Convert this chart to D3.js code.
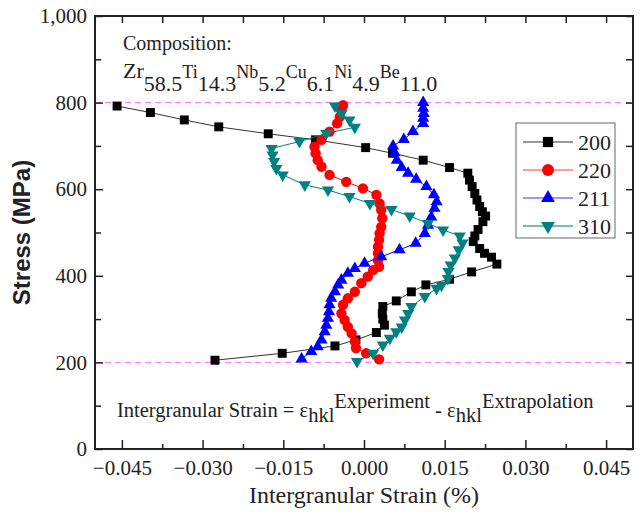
<!DOCTYPE html>
<html>
<head>
<meta charset="utf-8">
<script src="https://cdn.jsdelivr.net/npm/d3@7"></script>
<style>
  body { margin: 0; background: #fff; }
  text { font-family: "Liberation Serif"; }
  text.sans { font-family: "Liberation Sans"; }
</style>
</head>
<body>
<div id="chart"></div>
<script>
// strain (%) / stress (MPa)
const strain200 = [-0.0277, -0.0152, -0.0054, -0.0015, 0.0023, 0.0038, 0.0035, 0.0034, 0.0035, 0.0060, 0.0088, 0.0115, 0.0159, 0.0200, 0.0247,
    0.0237, 0.0224, 0.0215, 0.0203, 0.0206, 0.0212, 0.0221, 0.0226, 0.0220, 0.0215, 0.0210, 0.0206, 0.0201, 0.0196, 0.0193,
    0.0159, 0.0110, 0.0053, 0.0003, -0.0090, -0.0178, -0.0270, -0.0334, -0.0397, -0.0459]
const stress200 = [205, 221, 238, 252, 269, 286, 300, 313, 329, 342, 363, 379, 392, 409, 427,
    443, 452, 463, 479, 492, 507, 525, 538, 548, 560, 575, 590, 606, 621, 637,
    650, 667, 683, 696, 714, 728, 744, 760, 777, 792]

const strain220 = [0.0028, 0.0004, -0.0015, -0.0017, -0.0023, -0.0030, -0.0036, -0.0042, -0.0039, -0.0030, -0.0017, -0.0005, 0.0007, 0.0017,
    0.0028, 0.0026, 0.0026, 0.0026, 0.0028, 0.0029, 0.0032, 0.0034, 0.0032, 0.0029, 0.0023, -0.0002, -0.0033, -0.0064,
    -0.0079, -0.0086, -0.0090, -0.0092, -0.0079, -0.0064, -0.0050, -0.0045, -0.0042, -0.0039]
const stress220 = [207, 221, 233, 248, 267, 282, 298, 313, 333, 348, 363, 383, 398, 413,
    421, 436, 452, 467, 483, 498, 513, 533, 552, 567, 587, 602, 617, 633,
    652, 667, 683, 698, 714, 733, 752, 767, 783, 794]

const strain211 = [-0.0116, -0.0098, -0.0086, -0.0079, -0.0073, -0.0070, -0.0067, -0.0065, -0.0064, -0.0061, -0.0054, -0.0048, -0.0042,
    -0.0030, -0.0017, 0.0001, 0.0032, 0.0066, 0.0096, 0.0113, 0.0119, 0.0125, 0.0131, 0.0135, 0.0130, 0.0116, 0.0097,
    0.0082, 0.0070, 0.0061, 0.0057, 0.0054, 0.0074, 0.0091, 0.0110, 0.0110, 0.0111, 0.0110, 0.0110]
const stress211 = [208, 225, 236, 252, 271, 286, 302, 317, 333, 348, 363, 379, 390,
    406, 417, 429, 444, 460, 475, 498, 517, 536, 556, 571, 587, 606, 623,
    637, 650, 667, 684, 700, 715, 733, 752, 764, 775, 787, 800]

const strain310 = [-0.0013, 0.0017, 0.0035, 0.0048, 0.0060, 0.0070, 0.0076, 0.0082, 0.0088, 0.0113, 0.0135, 0.0144, 0.0156, 0.0157,
    0.0161, 0.0169, 0.0176, 0.0183, 0.0178, 0.0147, 0.0119, 0.0085, 0.0051, 0.0011, -0.0027, -0.0067, -0.0110,
    -0.0151, -0.0163, -0.0167, -0.0170, -0.0172, -0.0120, -0.0070, -0.0017, -0.0027, -0.0042, -0.0054]
const stress310 = [202, 221, 240, 256, 271, 282, 298, 313, 329, 352, 371, 378, 394, 410,
    425, 441, 460, 476, 492, 506, 521, 538, 553, 567, 583, 598, 610,
    633, 648, 664, 679, 694, 710, 729, 743, 760, 775, 792]

const seriesNames = ["200", "220", "211", "310"]
const xTicks = [-0.045, -0.030, -0.015, 0.000, 0.015, 0.030, 0.045]
const yTicks = [0, 200, 400, 600, 800, 1000]
const refStress = [200, 800]

const series = [
    { name: seriesNames[0], xs: strain200, ys: stress200, color: "#000000", line: "#333333", legendLine: "#777777", symbol: d3.symbolSquare, size: 80, rot: 0 },
    { name: seriesNames[1], xs: strain220, ys: stress220, color: "#ff0000", line: "#ff0000", legendLine: "#ff7a7a", symbol: d3.symbolCircle, size: 85, rot: 0 },
    { name: seriesNames[2], xs: strain211, ys: stress211, color: "#0000ff", line: "#0000ff", legendLine: "#7a7aff", symbol: d3.symbolTriangle, size: 64, rot: 0 },
    { name: seriesNames[3], xs: strain310, ys: stress310, color: "#008080", line: "#008080", legendLine: "#4aa5a5", symbol: d3.symbolTriangle, size: 64, rot: 180 }
]

const width = 642, height = 518
const plot = { left: 95, right: 633, top: 16, bottom: 449 }

const svg = d3.select("#chart").append("svg")
    .attr("width", width)
    .attr("height", height)
    .attr("font-family", "Liberation Serif")

const x = d3.scaleLinear().domain([-0.05, 0.05]).range([plot.left, plot.right])
const y = d3.scaleLinear().domain([0, 1000]).range([plot.bottom, plot.top])

const minorX = d3.range(-0.0375, 0.05, 0.015)
const minorY = d3.range(100, 1000, 200)

// reference lines at 200 and 800 MPa
svg.selectAll(".ref")
    .data(refStress)
    .join("line")
    .attr("x1", plot.left).attr("x2", plot.right)
    .attr("y1", d => y(d)).attr("y2", d => y(d))
    .attr("stroke", "#ff70ff")
    .attr("stroke-width", 1)
    .attr("stroke-dasharray", "6,4")

// axes: ticks point inward on all four sides
function styleAxis(g) {
    g.attr("font-family", "Liberation Serif")
    g.select(".domain").remove()
    g.selectAll(".tick line").attr("stroke", "#222").attr("stroke-width", 1.5)
    g.selectAll(".tick text")
        .attr("font-size", 21)
        .attr("fill", "#222")
}

svg.append("g")
    .attr("transform", `translate(0,${plot.bottom})`)
    .call(d3.axisBottom(x).tickValues(xTicks).tickSize(-9).tickPadding(11).tickFormat(d3.format(".3f")))
    .call(styleAxis)
svg.append("g")
    .attr("transform", `translate(0,${plot.bottom})`)
    .call(d3.axisBottom(x).tickValues(minorX).tickSize(-5).tickFormat(""))
    .call(styleAxis)
svg.append("g")
    .attr("transform", `translate(0,${plot.top})`)
    .call(d3.axisTop(x).tickValues(xTicks.concat(minorX)).tickSize(-7).tickFormat(""))
    .call(styleAxis)

svg.append("g")
    .attr("transform", `translate(${plot.left},0)`)
    .call(d3.axisLeft(y).tickValues(yTicks).tickSize(-8).tickPadding(8).tickFormat(d3.format(",")))
    .call(styleAxis)
svg.append("g")
    .attr("transform", `translate(${plot.left},0)`)
    .call(d3.axisLeft(y).tickValues(minorY).tickSize(-6).tickFormat(""))
    .call(styleAxis)
svg.append("g")
    .attr("transform", `translate(${plot.right},0)`)
    .call(d3.axisRight(y).tickValues(yTicks.concat(minorY)).tickSize(-7).tickFormat(""))
    .call(styleAxis)

// frame
svg.append("rect")
    .attr("x", plot.left).attr("y", plot.top)
    .attr("width", plot.right - plot.left)
    .attr("height", plot.bottom - plot.top)
    .attr("fill", "none")
    .attr("stroke", "#222")
    .attr("stroke-width", 2)

// series
const line = d3.line()
series.forEach(s => {
    const pts = s.xs.map((v, i) => [x(v), y(s.ys[i])])
    svg.append("path")
        .attr("d", line(pts))
        .attr("fill", "none")
        .attr("stroke", s.line)
        .attr("stroke-width", 1)
    const sym = d3.symbol().type(s.symbol).size(s.size)
    svg.append("g").selectAll("path")
        .data(pts)
        .join("path")
        .attr("d", sym)
        .attr("transform", d => `translate(${d[0]},${d[1]}) rotate(${s.rot})`)
        .attr("fill", s.color)
})

// legend
const legend = svg.append("g")
legend.append("rect")
    .attr("x", 516).attr("y", 123)
    .attr("width", 99).attr("height", 115)
    .attr("fill", "#fff")
    .attr("stroke", "#666")
    .attr("stroke-width", 1)
series.forEach((s, i) => {
    const ly = 142 + i * 28
    legend.append("line")
        .attr("x1", 523).attr("x2", 573)
        .attr("y1", ly).attr("y2", ly)
        .attr("stroke", s.legendLine)
        .attr("stroke-width", 1.5)
    legend.append("path")
        .attr("d", d3.symbol().type(s.symbol).size(s.size * 1.3))
        .attr("transform", `translate(548,${ly}) rotate(${s.rot})`)
        .attr("fill", s.color)
    legend.append("text")
        .attr("x", 578).attr("y", ly)
        .attr("dy", "0.35em")
        .attr("fill", "#222")
        .attr("font-size", 22)
        .text(s.name)
})

// composition note
svg.append("text")
    .attr("x", 123).attr("y", 50)
    .attr("fill", "#222")
    .attr("font-size", 20)
    .text("Composition:")

const formula = [["Zr", "58.5"], ["Ti", "14.3"], ["Nb", "5.2"], ["Cu", "6.1"], ["Ni", "4.9"], ["Be", "11.0"]]
const ft = svg.append("text").attr("x", 123).attr("y", 78).attr("fill", "#222")
formula.forEach((p, i) => {
    ft.append("tspan").attr("y", 78).attr("font-size", i === 0 ? 22 : 18).text(p[0])
    ft.append("tspan").attr("y", 91).attr("font-size", 22).text(p[1])
})

// strain definition
const eq = svg.append("text").attr("x", 117).attr("y", 417).attr("fill", "#222").attr("font-size", 20.5)
eq.append("tspan").attr("y", 417).text("Intergranular Strain = ε")
eq.append("tspan").attr("y", 422).text("hkl")
eq.append("tspan").attr("y", 408).text("Experiment")
eq.append("tspan").attr("y", 417).text(" - ε")
eq.append("tspan").attr("y", 422).text("hkl")
eq.append("tspan").attr("y", 408).text("Extrapolation")

// axis titles
svg.append("text")
    .attr("x", (plot.left + plot.right) / 2)
    .attr("y", 503)
    .attr("text-anchor", "middle")
    .attr("fill", "#222")
    .attr("font-size", 24)
    .text("Intergranular Strain (%)")

svg.append("text")
    .attr("class", "sans")
    .attr("transform", `translate(30,${(plot.top + plot.bottom) / 2}) rotate(-90)`)
    .attr("text-anchor", "middle")
    .attr("fill", "#222")
    .attr("font-weight", "bold")
    .attr("font-size", 24)
    .text("Stress (MPa)")
</script>
</body>
</html>
